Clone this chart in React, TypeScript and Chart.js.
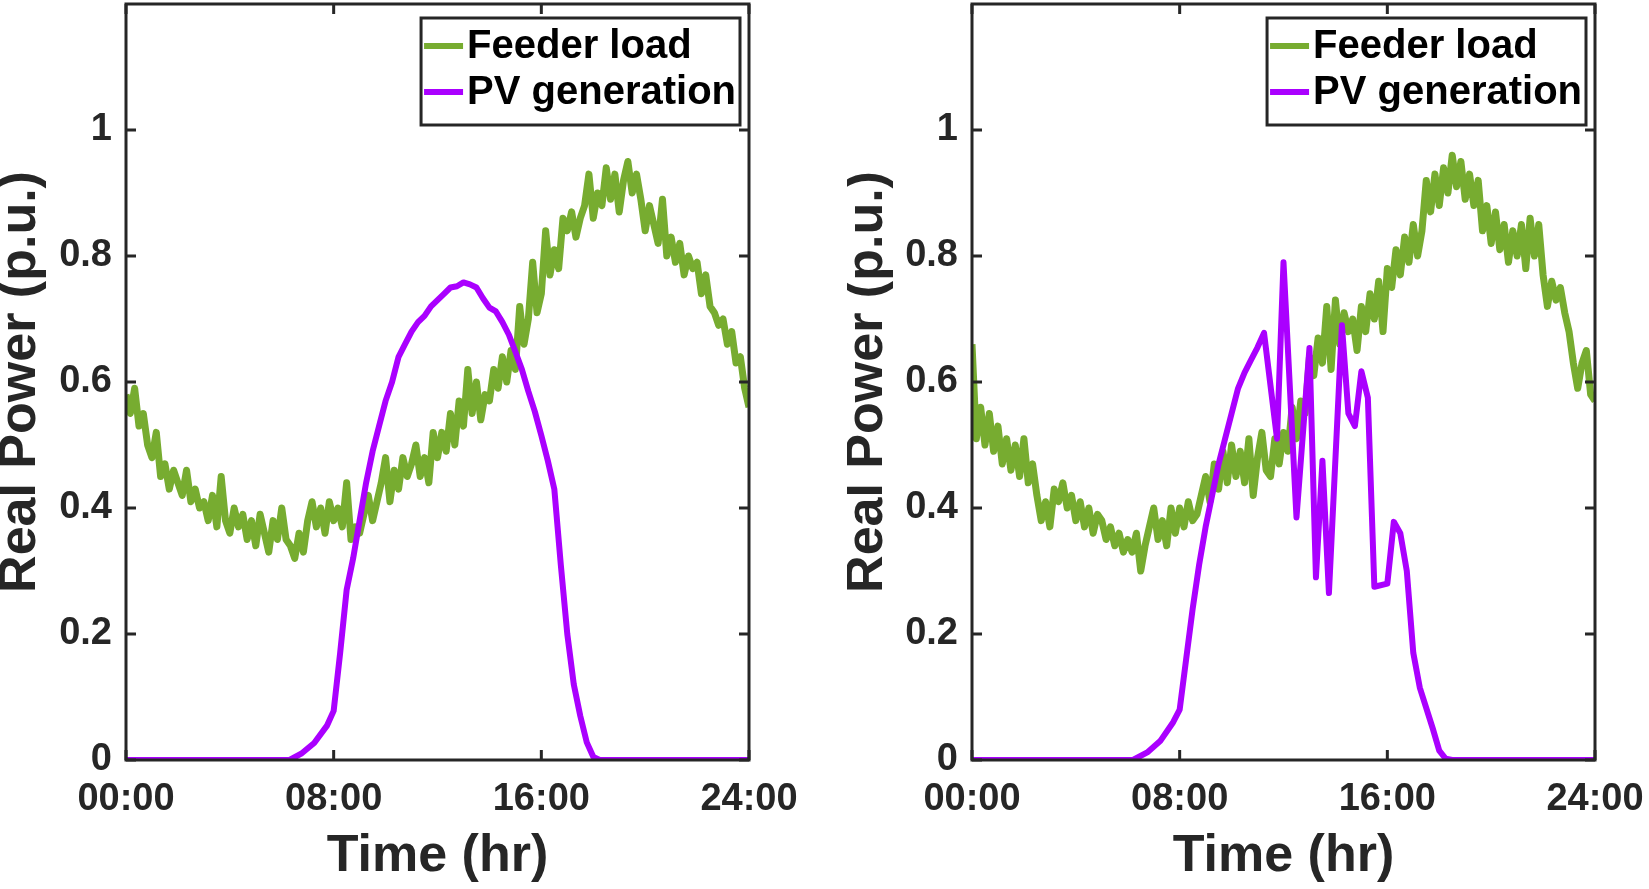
import { useEffect, useRef } from 'react';
import { Chart, registerables } from 'chart.js';

Chart.register(...registerables);

// axis ticks
const xTicks = [0, 8, 16, 24];
const xTickLabels = ['00:00', '08:00', '16:00', '24:00'];
const yTicks = [0, 0.2, 0.4, 0.6, 0.8, 1];

const seriesNames = ['Feeder load', 'PV generation'];

// feeder load, one value every 10 minutes from 00:00 to 24:00
const loadStepHours = 1 / 6;
const loadLeft = [
  0.58, 0.55, 0.59, 0.53, 0.55, 0.50,
  0.48, 0.52, 0.45, 0.47, 0.43, 0.46,
  0.44, 0.42, 0.46, 0.41, 0.43, 0.40,
  0.41, 0.38, 0.42, 0.37, 0.45, 0.38,
  0.36, 0.40, 0.37, 0.39, 0.35, 0.38,
  0.34, 0.39, 0.36, 0.33, 0.38, 0.35,
  0.40, 0.35, 0.34, 0.32, 0.36, 0.33,
  0.38, 0.41, 0.37, 0.40, 0.36, 0.41,
  0.38, 0.40, 0.37, 0.44, 0.35, 0.37,
  0.36, 0.39, 0.42, 0.38, 0.41, 0.44,
  0.48, 0.41, 0.46, 0.43, 0.48, 0.45,
  0.47, 0.50, 0.45, 0.48, 0.44, 0.52,
  0.48, 0.52, 0.49, 0.55, 0.50, 0.57,
  0.53, 0.62, 0.55, 0.60, 0.54, 0.58,
  0.57, 0.62, 0.59, 0.64, 0.60, 0.65,
  0.62, 0.72, 0.66, 0.70, 0.79, 0.71,
  0.74, 0.84, 0.77, 0.81, 0.78, 0.86,
  0.84, 0.87, 0.83, 0.86, 0.88, 0.93,
  0.86, 0.90, 0.88, 0.94, 0.89, 0.93,
  0.87, 0.92, 0.95, 0.90, 0.93, 0.89,
  0.84, 0.88, 0.85, 0.82, 0.89, 0.80,
  0.83, 0.79, 0.82, 0.77, 0.80, 0.78,
  0.79, 0.74, 0.77, 0.72, 0.71, 0.69,
  0.70, 0.66, 0.68, 0.63, 0.64, 0.59,
  0.56,
];
const loadRight = [
  0.66, 0.51, 0.56, 0.50, 0.55, 0.49,
  0.53, 0.47, 0.51, 0.46, 0.50, 0.45,
  0.51, 0.44, 0.47, 0.42, 0.38, 0.41,
  0.37, 0.43, 0.41, 0.44, 0.40, 0.42,
  0.38, 0.41, 0.37, 0.40, 0.36, 0.39,
  0.38, 0.35, 0.37, 0.34, 0.36, 0.33,
  0.35, 0.33, 0.36, 0.30, 0.34, 0.37,
  0.40, 0.35, 0.38, 0.34, 0.40, 0.36,
  0.40, 0.37, 0.41, 0.38, 0.39, 0.42,
  0.45, 0.41, 0.47, 0.43, 0.49, 0.44,
  0.50, 0.45, 0.49, 0.44, 0.51, 0.42,
  0.48, 0.52, 0.46, 0.45, 0.51, 0.47,
  0.52, 0.49, 0.56, 0.51, 0.57, 0.55,
  0.64, 0.61, 0.67, 0.63, 0.72, 0.62,
  0.73, 0.66, 0.71, 0.68, 0.70, 0.65,
  0.72, 0.68, 0.74, 0.70, 0.76, 0.68,
  0.78, 0.75, 0.81, 0.77, 0.83, 0.79,
  0.85, 0.80, 0.84, 0.92, 0.87, 0.93,
  0.88, 0.94, 0.90, 0.96, 0.91, 0.95,
  0.89, 0.93, 0.88, 0.92, 0.84, 0.88,
  0.82, 0.87, 0.81, 0.85, 0.79, 0.84,
  0.80, 0.85, 0.78, 0.86, 0.80, 0.85,
  0.77, 0.72, 0.76, 0.73, 0.75, 0.71,
  0.68, 0.63, 0.59, 0.63, 0.65, 0.58,
  0.57,
];

// PV generation (hour, p.u.)
const pvLeftHours = [
  0, 6.3, 6.75, 7.25, 7.75, 8, 8.25, 8.5, 8.75, 9, 9.25, 9.5, 9.75, 10, 10.25,
  10.5, 10.75, 11, 11.25, 11.5, 11.75, 12, 12.25, 12.5, 12.75, 13, 13.25, 13.5,
  13.75, 14, 14.25, 14.5, 14.75, 15, 15.25, 15.5, 15.75, 16, 16.25, 16.5, 16.75,
  17, 17.25, 17.5, 17.75, 18, 18.25, 24,
];
const pvLeftValues = [
  0, 0, 0.01, 0.027, 0.055, 0.078, 0.17, 0.27, 0.32, 0.38, 0.44, 0.49, 0.53, 0.57, 0.6,
  0.64, 0.66, 0.68, 0.695, 0.705, 0.72, 0.73, 0.74, 0.75, 0.752, 0.758, 0.755, 0.75,
  0.733, 0.718, 0.712, 0.695, 0.675, 0.648, 0.62, 0.585, 0.553, 0.515, 0.475, 0.43, 0.31,
  0.2, 0.12, 0.07, 0.028, 0.005, 0, 0,
];
const pvRightHours = [
  0, 6.2, 6.75, 7.25, 7.75, 8, 8.25, 8.5, 8.75, 9, 9.25, 9.5, 9.75, 10, 10.25,
  10.5, 10.75, 11, 11.25, 11.75, 12, 12.5, 13, 13.25, 13.5, 13.75, 14.25, 14.5,
  14.75, 15, 15.25, 15.5, 16, 16.25, 16.5, 16.75, 17, 17.25, 17.75, 18, 18.25,
  18.5, 24,
];
const pvRightValues = [
  0, 0, 0.012, 0.03, 0.06, 0.08, 0.16, 0.24, 0.31, 0.37, 0.42, 0.47, 0.51, 0.55, 0.59,
  0.615, 0.635, 0.655, 0.678, 0.51, 0.79, 0.385, 0.654, 0.29, 0.475, 0.265, 0.69, 0.55,
  0.53, 0.617, 0.575, 0.275, 0.28, 0.378, 0.36, 0.3, 0.17, 0.115, 0.05, 0.015, 0.002,
  0, 0,
];

const GREEN = '#77AC30';
const PURPLE = '#AA00FF';
const AXIS = '#262626';
const FONT = '"Liberation Sans", Arial, Helvetica, sans-serif';

Chart.defaults.font.family = FONT;
Chart.defaults.color = AXIS;

// MATLAB style box with inward ticks on all four sides
const matlabBox = {
  id: 'matlabBox',
  afterDatasetsDraw(chart: any) {
    const { ctx, chartArea: a, scales } = chart;
    const len = 10;
    ctx.save();
    ctx.strokeStyle = AXIS;
    ctx.lineWidth = 3;
    ctx.beginPath();
    xTicks.forEach((v) => {
      const px = scales.x.getPixelForValue(v);
      ctx.moveTo(px, a.bottom);
      ctx.lineTo(px, a.bottom - len);
      ctx.moveTo(px, a.top);
      ctx.lineTo(px, a.top + len);
    });
    yTicks.forEach((v) => {
      const py = scales.y.getPixelForValue(v);
      ctx.moveTo(a.left, py);
      ctx.lineTo(a.left + len, py);
      ctx.moveTo(a.right, py);
      ctx.lineTo(a.right - len, py);
    });
    ctx.stroke();
    ctx.strokeRect(a.left, a.top, a.right - a.left, a.bottom - a.top);
    ctx.restore();
  },
};

// boxed legend in the top right corner of the plot
const boxLegend = {
  id: 'boxLegend',
  afterDraw(chart: any) {
    const { ctx, chartArea: a } = chart;
    const sets = chart.data.datasets;
    ctx.save();
    ctx.font = `bold 40px ${FONT}`;
    const textW = Math.max(...sets.map((d: any) => ctx.measureText(d.label).width));
    const sample = 39;
    const gap = 4;
    const padL = 3;
    const padR = 4;
    const w = padL + sample + gap + textW + padR;
    const h = 107;
    const right = a.right - 9;
    const top = a.top + 14;
    const left = right - w;
    ctx.fillStyle = '#ffffff';
    ctx.fillRect(left, top, w, h);
    ctx.lineWidth = 3;
    ctx.strokeStyle = AXIS;
    ctx.strokeRect(left, top, w, h);
    sets.forEach((d: any, i: number) => {
      const cy = top + 28 + i * 46;
      ctx.strokeStyle = d.borderColor;
      ctx.lineWidth = 6;
      ctx.beginPath();
      ctx.moveTo(left + padL, cy);
      ctx.lineTo(left + padL + sample, cy);
      ctx.stroke();
      ctx.fillStyle = '#000000';
      ctx.textBaseline = 'middle';
      ctx.textAlign = 'left';
      ctx.fillText(d.label, left + padL + sample + gap, cy + 1);
    });
    ctx.restore();
  },
};

function makeConfig(load: number[], pvHours: number[], pvValues: number[], yWidth: number, padRight: number): any {
  return {
    type: 'line',
    data: {
      datasets: [
        {
          label: seriesNames[0],
          data: load.map((v, i) => ({ x: i * loadStepHours, y: v })),
          borderColor: GREEN,
          borderWidth: 7,
          pointRadius: 0,
          borderJoinStyle: 'round',
          order: 2,
        },
        {
          label: seriesNames[1],
          data: pvHours.map((hr, i) => ({ x: hr, y: pvValues[i] })),
          borderColor: PURPLE,
          borderWidth: 6,
          pointRadius: 0,
          borderJoinStyle: 'round',
          order: 1,
        },
      ],
    },
    options: {
      animation: false,
      responsive: true,
      maintainAspectRatio: false,
      layout: { padding: { top: 4, right: padRight, left: 0, bottom: 0 } },
      plugins: { legend: { display: false }, tooltip: { enabled: false } },
      scales: {
        x: {
          type: 'linear',
          min: 0,
          max: 24,
          grid: { display: false, drawTicks: false },
          border: { display: false },
          afterBuildTicks: (s: any) => {
            s.ticks = xTicks.map((v) => ({ value: v }));
          },
          afterFit: (s: any) => {
            s.height = 129;
            s.paddingLeft = 0;
            s.paddingRight = 0;
          },
          ticks: {
            callback: (v: number) => xTickLabels[xTicks.indexOf(v)],
            font: { size: 38, weight: 'bold' },
            color: AXIS,
            padding: 17,
            maxRotation: 0,
            autoSkip: false,
          },
          title: {
            display: true,
            text: 'Time (hr)',
            font: { size: 52, weight: 'bold', lineHeight: 1 },
            color: AXIS,
            padding: { top: 0, bottom: 6 },
          },
        },
        y: {
          type: 'linear',
          min: 0,
          max: 1.2,
          grid: { display: false, drawTicks: false },
          border: { display: false },
          afterBuildTicks: (s: any) => {
            s.ticks = yTicks.map((v) => ({ value: v }));
          },
          afterFit: (s: any) => {
            s.width = yWidth;
            s.paddingTop = 0;
            s.paddingBottom = 0;
          },
          ticks: {
            callback: (v: number) => String(Number(v.toFixed(1))),
            font: { size: 38, weight: 'bold' },
            color: AXIS,
            padding: 14,
            autoSkip: false,
          },
          title: {
            display: true,
            text: 'Real Power (p.u.)',
            font: { size: 52, weight: 'bold', lineHeight: 1 },
            color: AXIS,
            padding: { top: -5, bottom: 0 },
          },
        },
      },
    },
    plugins: [matlabBox, boxLegend],
  };
}

function PowerPlot(props: { load: number[]; pvHours: number[]; pvValues: number[]; yWidth: number; padRight: number }) {
  const ref = useRef<HTMLCanvasElement>(null);

  useEffect(() => {
    if (!ref.current) return;
    const chart = new Chart(ref.current, makeConfig(props.load, props.pvHours, props.pvValues, props.yWidth, props.padRight));
    return () => chart.destroy();
  }, [props.load, props.pvHours, props.pvValues, props.yWidth, props.padRight]);

  return <canvas ref={ref}></canvas>;
}

export default function App() {
  return (
    <div style={{ position: 'fixed', left: 0, top: 0, width: 1649, height: 889, background: '#ffffff' }}>
      <div style={{ position: 'absolute', left: 0, top: 0, width: 847, height: 889 }}>
        <PowerPlot load={loadLeft} pvHours={pvLeftHours} pvValues={pvLeftValues} yWidth={126} padRight={98} />
      </div>
      <div style={{ position: 'absolute', left: 847, top: 0, width: 802, height: 889 }}>
        <PowerPlot load={loadRight} pvHours={pvRightHours} pvValues={pvRightValues} yWidth={125} padRight={54} />
      </div>
    </div>
  );
}
